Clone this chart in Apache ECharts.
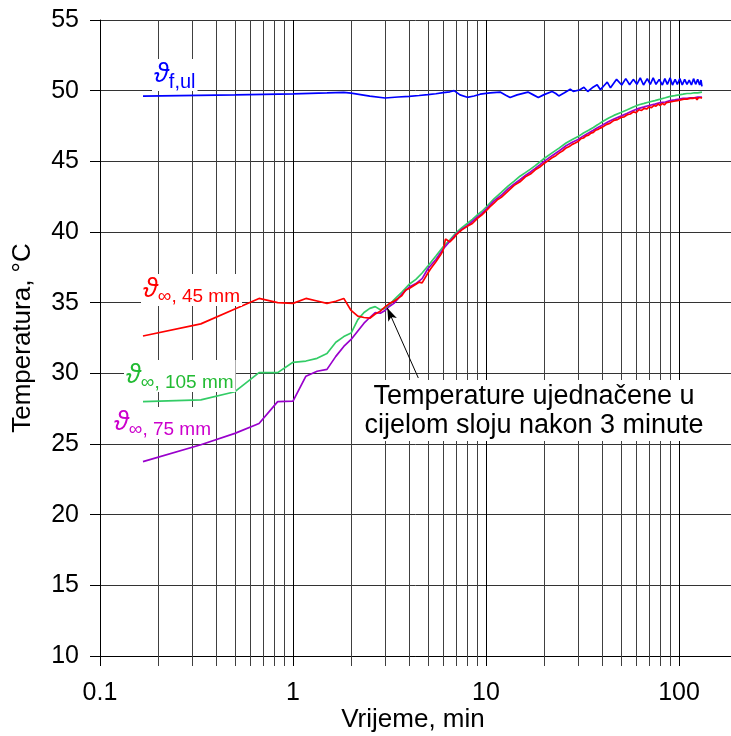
<!DOCTYPE html>
<html><head><meta charset="utf-8">
<script src="https://cdn.jsdelivr.net/npm/echarts@6/dist/echarts.min.js"></script>
<style>html,body{margin:0;padding:0;background:#fff}#c{width:731px;height:736px}</style>
</head><body><div id="c"></div>
<script>
// ---- data ----
const xTickLabels = ['0.1', '1', '10', '100'];
const yTicks = [10, 15, 20, 25, 30, 35, 40, 45, 50, 55];
const majorGridValues = [0.1, 1, 10, 100];
const minorGridValues = [0.2,0.3,0.4,0.5,0.6,0.7,0.8,0.9, 2,3,4,5,6,7,8,9, 20,30,40,50,60,70,80,90];

const blueFul = [[0.167,49.62],[0.5,49.7],[1.0,49.78],[1.5,49.84],[1.833,49.88],[2.0,49.82],[2.5,49.62],[3.0,49.48],[3.5,49.55],[4.0,49.6],[4.5,49.66],[5.0,49.72],[5.5,49.78],[6.0,49.86],[6.5,49.92],[6.833,50.0],[7.333,49.7],[8.0,49.53],[8.667,49.62],[9.333,49.75],[10.5,49.85],[11.833,49.9],[12.667,49.68],[13.333,49.52],[14.5,49.7],[16.5,49.9],[17.5,49.72],[18.667,49.52],[20,49.72],[22,49.94],[23,49.8],[23.833,49.63],[25.5,49.85],[27.333,50.1],[28.333,49.95],[29,49.86],[30.5,50.05],[32.167,50.24],[33.667,49.94],[35.5,50.2],[37.667,50.42],[39.167,50.07],[40.833,50.35],[42.5,50.6],[44.167,50.2],[47.5,50.8],[50.5,50.4],[53,50.85],[55.5,50.42],[58,50.8],[60.5,50.45],[63,50.9],[65.5,50.4],[68.5,50.85],[71,50.45],[73.5,50.9],[76,50.45],[79,50.8],[82,50.4],[84.5,50.85],[87,50.45],[90,50.9],[92.5,50.4],[95.5,50.8],[98,50.45],[101,50.85],[104,50.4],[107,50.8],[110,50.45],[113,50.75],[116,50.4],[119,50.85],[122,50.45],[125,50.8],[128,50.4],[130,50.75],[131.5,50.3]];

const red45 = [[0.167,32.64],[0.333,33.5],[0.5,34.55],[0.667,35.3],[0.833,35.0],[1.0,34.95],[1.167,35.3],[1.333,35.12],[1.5,34.95],[1.667,35.1],[1.833,35.3],[2.0,34.45],[2.167,34.05],[2.333,33.95],[2.5,33.9],[2.667,34.2],[2.833,34.4],[3.0,34.7],[3.167,34.95],[3.333,35.1],[3.5,35.3],[3.667,35.5],[3.833,35.9],[4.0,36.0],[4.333,36.3],[4.5,36.45],[4.667,36.4],[5.0,37.1],[5.167,37.4],[5.5,37.9],[5.833,38.4],[6.0,38.7],[6.167,39.5],[6.333,39.4],[6.5,39.3],[6.833,39.6],[7.0,39.8],[7.5,40.15],[8.0,40.4],[8.5,40.6],[9.0,40.95],[9.5,41.2],[10,41.5],[10.5,41.8],[11,42.05],[11.5,42.3],[12,42.45],[13,42.9],[14,43.3],[15,43.55],[16,43.9],[17,44.1],[18,44.4],[19,44.6],[20,44.85],[21,45.05],[22,45.25],[23,45.4],[24,45.6],[25,45.75],[26,45.95],[27,46.05],[28,46.2],[29,46.3],[30,46.4],[31,46.6],[32,46.65],[33,46.8],[34,46.85],[35,47.0],[36,47.05],[37,47.2],[38,47.25],[39,47.35],[40,47.4],[42,47.6],[44,47.7],[46,47.9],[48,47.95],[50,48.1],[52,48.15],[54,48.3],[56,48.35],[58,48.5],[60,48.45],[62,48.65],[64,48.6],[66,48.75],[68,48.7],[70,48.85],[72,48.8],[74,48.95],[76,48.9],[78,49.05],[80,48.95],[82,49.1],[84,49.0],[86,49.15],[88,49.05],[90,49.2],[92,49.1],[94,49.25],[96,49.15],[98,49.3],[100,49.2],[102,49.35],[104,49.25],[106,49.4],[108,49.3],[110,49.4],[112,49.3],[114,49.45],[116,49.35],[118,49.45],[120,49.35],[122,49.5],[124,49.35],[126,49.5],[128,49.4],[130,49.5],[131.5,49.45]];

const green105 = [[0.167,28.0],[0.333,28.12],[0.5,28.7],[0.667,30.05],[0.833,30.05],[1.0,30.78],[1.167,30.87],[1.333,31.06],[1.5,31.4],[1.667,32.2],[1.833,32.6],[2.0,32.85],[2.167,33.8],[2.333,34.3],[2.5,34.6],[2.667,34.72],[2.833,34.5],[3.0,34.6],[3.167,34.85],[3.333,35.2],[3.667,35.75],[4.0,36.3],[4.333,36.65],[4.667,37.1],[5.0,37.6],[5.5,38.3],[6.0,38.95],[6.5,39.45],[7.0,39.95],[7.5,40.3],[8.0,40.6],[8.5,40.9],[9,41.2],[9.5,41.45],[10,41.75],[11,42.35],[12,42.8],[13,43.25],[14,43.6],[15,43.95],[16,44.2],[17,44.45],[18,44.7],[19,44.95],[20,45.2],[22,45.6],[24,45.95],[26,46.3],[28,46.55],[30,46.75],[32,47.0],[34,47.2],[36,47.4],[38,47.6],[40,47.8],[43,48.05],[46,48.25],[50,48.45],[54,48.65],[58,48.85],[62,49.0],[66,49.1],[70,49.2],[75,49.3],[80,49.4],[85,49.5],[90,49.6],[95,49.65],[100,49.7],[105,49.75],[110,49.8],[115,49.8],[120,49.85],[125,49.85],[131.5,49.9]];

const purple75 = [[0.167,23.75],[0.333,24.95],[0.5,25.75],[0.667,26.45],[0.833,28.0],[1.0,28.04],[1.167,29.8],[1.333,30.15],[1.5,30.28],[1.667,31.2],[1.833,31.9],[2.0,32.4],[2.167,33.0],[2.333,33.55],[2.5,33.95],[2.667,34.3],[2.833,34.25],[3.0,34.45],[3.167,34.75],[3.333,34.95],[3.667,35.6],[4.0,36.1],[4.333,36.35],[4.667,36.7],[5.0,37.4],[5.5,38.05],[6.0,38.8],[6.5,39.35],[7.0,39.85],[7.5,40.2],[8.0,40.45],[8.5,40.75],[9.0,41.05],[9.5,41.3],[10,41.6],[11,42.2],[12,42.6],[13,43.05],[14,43.4],[15,43.7],[16,44.0],[17,44.25],[18,44.5],[19,44.75],[20,45.0],[22,45.4],[24,45.75],[26,46.1],[28,46.35],[30,46.55],[32,46.8],[34,47.0],[36,47.2],[38,47.4],[40,47.55],[43,47.8],[46,48.0],[50,48.2],[54,48.4],[58,48.6],[62,48.75],[66,48.85],[70,48.95],[75,49.05],[80,49.15],[85,49.2],[90,49.3],[95,49.35],[100,49.4],[105,49.45],[110,49.45],[115,49.5],[120,49.5],[125,49.55],[131.5,49.55]];

const arrowFrom = [4.46, 29.67];
const arrowTo = [3.08, 34.62];

// ---- chart ----
const FONT = '"Liberation Sans", Arial, "DejaVu Sans", sans-serif';
const chart = echarts.init(document.getElementById('c'), null, {renderer: 'canvas'});

function lineSeries(name, data, color, extra) {
  return Object.assign({
    name, type: 'line', data, showSymbol: false, symbol: 'none', z: 3,
    lineStyle: {color, width: 1.7}, itemStyle: {color}, animation: false, silent: true
  }, extra || {});
}

function gridSeries(values, color, z) {
  return {
    type: 'custom', z, silent: true, clip: false, animation: false,
    data: values.map(v => [v, yTicks[0]]),
    renderItem: (params, api) => {
      const v = api.value(0);
      const top = api.coord([v, yTicks[yTicks.length - 1]]);
      const bot = api.coord([v, yTicks[0]]);
      const x = Math.round(top[0]) + 0.5;
      return {type: 'line', shape: {x1: x, y1: top[1], x2: x, y2: bot[1] + 10},
        style: {stroke: color, lineWidth: 1}};
    }
  };
}

function lbl(x, y, sub, color, subSize) {
  return {type: 'text', x, y, z: 50, style: {
    text: '{a|ϑ}{b|' + sub + '}', fill: color, backgroundColor: '#fff', padding: [2, 2, 2, 2],
    rich: {a: {fontFamily: FONT, fontSize: 27, fontStyle: 'italic', lineHeight: 28, verticalAlign: 'top', fill: color},
           b: {fontFamily: FONT, fontSize: subSize, lineHeight: subSize, padding: [11, 0, 0, 0], verticalAlign: 'top', fill: color}}
  }};
}

const option = {
  backgroundColor: '#fff',
  animation: false,
  grid: {left: 100, top: 20, right: 0, bottom: 80, containLabel: false},
  xAxis: {
    type: 'log', logBase: 10, min: 0.1, max: 186,
    axisLine: {show: true, lineStyle: {color: '#000', width: 1}},
    axisTick: {show: false},
    axisLabel: {
      fontFamily: FONT, fontSize: 25, color: '#000', margin: 25, showMaxLabel: false,
      formatter: v => {
        const n = Math.log10(v);
        const r = Math.round(n);
        if (Math.abs(n - r) > 1e-6) return '';
        const idx = r + 1;
        return xTickLabels[idx] !== undefined ? xTickLabels[idx] : '';
      }
    },
    splitLine: {show: false},
    minorTick: {show: false}, minorSplitLine: {show: false}
  },
  yAxis: {
    type: 'value', min: yTicks[0], max: yTicks[yTicks.length - 1], interval: 5,
    name: 'Temperatura, °C', nameLocation: 'middle', nameGap: 64,
    nameTextStyle: {fontFamily: FONT, fontSize: 26, color: '#000'},
    axisLine: {show: true, lineStyle: {color: '#000', width: 1}},
    axisTick: {show: true, length: 10, lineStyle: {color: '#000'}},
    axisLabel: {fontFamily: FONT, fontSize: 25, color: '#000', margin: 21},
    splitLine: {show: true, lineStyle: {color: '#333', width: 1}}
  },
  series: [
    gridSeries(minorGridValues, '#404040', 1),
    gridSeries(majorGridValues, '#000', 1),
    lineSeries('ful', blueFul, '#0000FF'),
    lineSeries('105', green105, '#33CC66'),
    lineSeries('75', purple75, '#9900CC', {
      markLine: {
        silent: true, animation: false, symbol: ['none', 'arrow'], symbolSize: [7, 13],
        lineStyle: {color: '#000', width: 1, type: 'solid'}, label: {show: false},
        data: [[{coord: arrowFrom}, {coord: arrowTo}]]
      }
    }),
    lineSeries('45', red45, '#FF0000')
  ],
  graphic: [
    lbl(152, 59, 'f,ul', '#0000FF', 20),
    lbl(141, 274, '∞, 45 mm', '#FF0000', 19),
    lbl(124, 360, '∞, 105 mm', '#22BB33', 19),
    lbl(112, 407, '∞, 75 mm', '#CC00CC', 19),
    {type: 'text', x: 413, y: 720, z: 50, style: {
      text: 'Vrijeme, min', fontFamily: FONT, fontSize: 26, fill: '#000', align: 'center', verticalAlign: 'middle'
    }},
    {type: 'text', x: 534, y: 380, z: 50, style: {
      text: 'Temperature ujednačene u\ncijelom sloju nakon 3 minute',
      fontFamily: FONT, fontSize: 27, lineHeight: 29, fill: '#000',
      align: 'center', verticalAlign: 'top', backgroundColor: '#fff', padding: [2, 12, 1, 12]
    }}
  ]
};
chart.setOption(option);
</script>
</body></html>
